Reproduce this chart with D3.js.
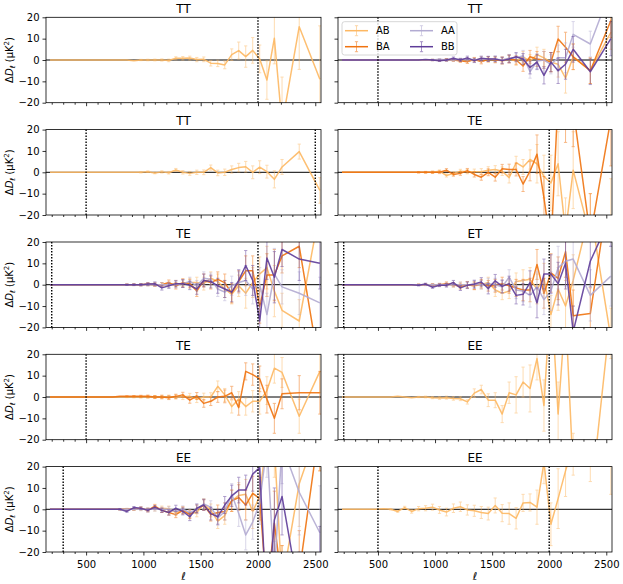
<!DOCTYPE html>
<html><head><meta charset="utf-8">
<script src="https://cdn.jsdelivr.net/npm/d3@7"></script>
<style>body{margin:0;background:#fff}svg{display:block}text{font-family:"DejaVu Sans",sans-serif}</style>
</head><body><svg id="c" width="623" height="584"></svg>
<script>
const ell=[185,246,307,368,429,490,551,612,673,734,795,856,917,978,1039,1100,1161,1222,1283,1344,1405,1466,1527,1588,1649,1710,1771,1832,1893,1954,2015,2078,2143,2210,2360,2540];
const titles=["TT","TT","TT","TE","TE","ET","TE","EE","EE","EE"];
const vlines=[[2000],[500,2500],[500,2500],[2000],[200,2000],[200,2000],[500,2000],[200,2000],[300,2000],[500,2000]];
const seriesNames=["AB","BA","AA","BB"];
const seriesColors=["#fdb863","#f07310","#b2abd2","#5e3c99"];
const xMajorTicks=[500,1000,1500,2000,2500];
const xMinorTicks=[200,300,400,600,700,800,900,1100,1200,1300,1400,1600,1700,1800,1900,2100,2200,2300,2400];
const yTicks=[-20,-10,0,10,20];

// Panel 1 TT (left)
const p1_AB=[0,0,0,0,0,0,0,0,0,0,0,0,-0.3,0,0,0,0,-0.2,0.8,0.8,0.9,0.2,0.3,-1.5,-1.6,-2.3,2.5,4.4,1.6,4.5,0.5,-9.4,10.2,-30,15.6,-9];
const p1_err=[0.02,0.02,0.03,0.03,0.04,0.05,0.06,0.08,0.1,0.12,0.15,0.2,0.25,0.3,0.35,0.4,0.5,0.6,0.7,0.8,0.9,1.0,1.1,1.3,1.5,1.8,2.7,4,5,6,6.5,9,12,22,20,25];
// Panel 2 TT (right)
const p2_AB=[0,0,0,0,0,0,0,0,0,0,0,0,0,0,0,0.2,0,-0.3,0.3,0,0.5,0.3,0.3,-0.5,0.5,-0.5,1.5,-0.5,2.5,1,-1,-2,-8.5,1.5,-5,13];
const p2_BA=[0,0,0,0,0,0,0,0,0,0,0,0,0,0,0,0,0,-0.3,-0.8,0.3,-0.8,0.3,0,0,0.5,0,-2.8,1.5,0.5,0,-1,9.8,6,1.5,-5,18.5];
const p2_AA=[0,0,0,0,0,0,0,0,0,0,0,0,0,0,0.3,0,0,0.2,0.3,0,0.3,0.5,0.5,0,0.8,1,2,-5.5,-0.5,0,-2,1,1,12,7.5,33];
const p2_BB=[0,0,0,0,0,0,0,0,0,0,0,0,0.2,0,-0.3,0,0.8,0,1,-0.3,0.8,0.5,0.5,-0.3,0.5,1.5,0.5,-3.5,-1,-7.2,-1,-5,-2,5,-5.5,10];
const p2_err=[0.02,0.02,0.03,0.03,0.04,0.05,0.06,0.08,0.1,0.12,0.15,0.2,0.25,0.3,0.4,0.5,0.6,0.7,0.8,0.9,1,1.2,1.3,1.5,1.8,2,2.5,3,3.5,4,4.5,6,7,6,6,8];
// Panel 3 TT (left)
const p3_AB=[0,0,0,0,0,0,0,0,0,0,0,0,0,0,0.3,-0.3,0.2,-0.2,1.1,0,-0.5,0,0,2.2,-0.3,0,1.3,2.2,2.6,0,2.4,0.3,-3.3,2.5,9.7,-8.5];
const p3_err=[0.02,0.02,0.03,0.03,0.04,0.05,0.06,0.08,0.1,0.12,0.15,0.2,0.25,0.3,0.35,0.4,0.5,0.6,0.7,0.8,0.9,1,1.1,1.2,1.3,1.5,1.7,2,2.5,3,3,3,4,3.5,3.5,6];
// Panel 4 TE (right)
const p4_AB=[0,0,0,0,0,0,0,0,0,0,0,0,0,0,0.5,-1.5,-0.5,0.5,0.3,0.3,0.3,1,1.3,0.5,-2.5,4.5,2.5,6,4,-2,-5,4,-28,1,-30,-25];
const p4_BA=[0,0,0,0,0,0,0,0,0,0,0,0,0,0,0,1,-1,-0.5,0.8,-1,-2.3,0,-2.3,1.7,1.3,1.3,-5.5,0.5,8.5,-12,-35,35,30,30,-30,25];
const p4_err=[0.02,0.03,0.04,0.05,0.06,0.08,0.1,0.12,0.15,0.2,0.25,0.3,0.4,0.5,0.6,0.7,0.8,0.9,1,1.2,1.4,1.6,1.8,2,2.5,3,3.5,4.5,9,10,13,15,16,18,20,22];
// Panel 5 TE (left)
const p5_AB=[0,0,0,0,0,0,0,0,0,0,0,0,0,0,0,0,0,0,0.5,0.5,1,1,0.5,3,1.5,-2,-4.5,-0.5,-4,1,5,8,-3,-12,-17,35];
const p5_BA=[0,0,0,0,0,0,0,0,0,0,0,0,0,0,0.3,0,0,1,-0.5,1,0.5,-3,2,1,2.5,1,-4,1.5,6.5,6.5,-10,4.5,4.5,13.5,18,-40];
const p5_AA=[0,0,0,0,0,0,0,0,0,0,0,0,0,0,0,0,0,0,0,0.5,1.5,-0.5,3,2.5,-2,-3.5,-0.5,1,2,-2,0,-14,5,-1,-4,-8.5];
const p5_BB=[0,0,0,0,0,0,0,0,0,0,0,0,0,0,0.3,0.5,-1.5,-0.5,0.5,0.5,-0.3,-2,2,1.5,-0.5,-2,-3.5,2,9,2,-17,12.5,3.5,16.5,12,10];
const p5_err=[0.02,0.03,0.04,0.05,0.06,0.08,0.1,0.12,0.15,0.2,0.25,0.3,0.4,0.5,0.6,0.8,1,1.2,1.5,1.8,2,2.5,3,3,3.5,4,4.5,5,7,7,8,10,12,8,10,12];
// Panel 6 ET (right)
const p6_AB=[0,0,0,0,0,0,0,0,0,0,0,0,0,0,0,0,0,0,0,-0.5,0,1,-2.5,-4,-3,1.5,2,2.5,-2,3,-14,-2,-10,2,35,-25];
const p6_BA=[0,0,0,0,0,0,0,0,0,0,0,0,0,0,0,0.5,0,-0.8,0,-0.5,0.5,-0.5,-0.5,0.5,-0.5,-1.5,-2.5,-2.5,9.5,-4,5.5,3,15.5,-14.5,-13.5,50];
const p6_AA=[0,0,0,0,0,0,0,0,0,0,0,0,0,0,0,0,0,0,0,0,0,0.5,0,-1,3.5,-2.5,-3,-5,-1,-7,-3,8,11,12,-5,4];
const p6_BB=[0,0,0,0,0,0,0,0,0,0,0,-0.3,0.3,-1.2,-0.3,-0.3,1,-1.5,-0.3,0.3,1.3,-1.8,1.8,-0.8,0.5,-5,-4.5,1,-8.5,5,5,0.5,10,-22,11,32];
const p6_err=[0.02,0.03,0.04,0.05,0.06,0.08,0.1,0.12,0.15,0.2,0.25,0.3,0.4,0.5,0.6,0.8,1,1.2,1.5,1.8,2,2.5,3,3,3.5,4,5,5.5,7,7,9,10,12,12,12,14];
// Panel 7 TE (left)
const p7_AB=[0,0,0,0,0,0,0,0,0,0,0,0,0,0,0,0,0,0,0,0,0.3,-1,0,0,5,1,-4.5,-1,-4.5,-2,-2,3,13.5,11.5,-9,12];
const p7_BA=[0,0,0,0,0,0,0,0,0,0,0.3,0.3,0.3,0.3,0.3,0,0,-0.3,0.3,1,-1.5,0.5,-3,-2,0,0.3,2,-5,12,10.5,8.5,-1,-10,1.5,2,2];
const p7_err=[0.02,0.03,0.04,0.05,0.06,0.08,0.1,0.12,0.15,0.2,0.25,0.3,0.4,0.5,0.6,0.7,0.8,0.9,1,1.2,1.4,1.6,1.8,2,2.5,3,3,3.5,4,5,6,6.5,7,7,8,10];
// Panel 8 EE (right)
const p8_AB=[0,0,0,0,0,0,0,0,0.3,0,-0.3,0,0,-0.3,-0.5,-0.3,-0.7,-0.8,-2.3,1.8,3.5,-1.5,-1.5,-8,2,1,7,4,18,-4,50,-8,40,-35,-50,40];
const p8_err=[0.02,0.03,0.04,0.05,0.06,0.08,0.1,0.12,0.15,0.2,0.25,0.3,0.4,0.5,0.6,0.7,0.8,0.9,1,2,2,3,3.5,4,5,8.5,7,11,10,12,14,15,16,18,20,22];
// Panel 9 EE (left)
const p9_AB=[0,0,0,0,0,0,0,0,0,0,0,0,0,0,0,0,0.5,0.3,-1.5,-0.5,-2,-1.5,2.5,-0.5,-5.5,-3,4,6.5,7,-1,6,35,30,-35,12,40];
const p9_BA=[0,0,0,0,0,0,0,0,0,0,0,0,0,0.5,-0.5,1.5,-0.5,-1.5,-2.5,-0.5,-2.5,0,2,-2.5,-1.5,-1,4,5.5,2,7.5,5,-40,-6.5,-35,-30,40];
const p9_AA=[0,0,0,0,0,0,0,0,0,0,0,0,0,0,0,0,0,0,-1,0,-1.5,0,2.5,1,-4,-1,7,-2,-12,-6,3,30,-30,30,8,-11];
const p9_BB=[0,0,0,0,0,0,0,0,0,0,0,-1,0.8,0.5,-0.5,1,-0.5,-1.5,0.5,-1,-3.5,0.5,2,-2,-3.5,2,6.3,9,9,16.5,19.5,-50,-5,6,-40,-30];
const p9_err=[0.02,0.03,0.04,0.05,0.06,0.08,0.1,0.15,0.2,0.25,0.3,0.4,0.5,0.6,0.7,0.8,1,1.2,1.4,1.6,1.8,2,2.5,3,3.5,4,5,6,7,8,10,15,15,18,20,22];
// Panel 10 EE (right)
const p10_AB=[0,0,0,0,0,0,0.3,0,-1,0.8,-1,0.3,0.5,1,-0.3,-1.3,0.5,1.2,-0.3,-0.7,-1.5,-2,1.8,-1.8,-2,-4.2,3,3.2,1,22,-7,5,18,30,30,25];
const p10_err=[0.02,0.03,0.04,0.05,0.06,0.1,0.2,0.3,0.4,0.6,0.8,1,1.2,1.4,1.6,1.8,2,2.2,2.4,2.6,2.8,3,3.5,4,5,5,4,4,8,10,10,14,12,14,17,18];

const panels=[
 {series:{AB:p1_AB},err:p1_err},
 {series:{AB:p2_AB,BA:p2_BA,AA:p2_AA,BB:p2_BB},err:p2_err,legend:true},
 {series:{AB:p3_AB},err:p3_err},
 {series:{AB:p4_AB,BA:p4_BA},err:p4_err},
 {series:{AB:p5_AB,BA:p5_BA,AA:p5_AA,BB:p5_BB},err:p5_err},
 {series:{AB:p6_AB,BA:p6_BA,AA:p6_AA,BB:p6_BB},err:p6_err},
 {series:{AB:p7_AB,BA:p7_BA},err:p7_err},
 {series:{AB:p8_AB},err:p8_err},
 {series:{AB:p9_AB,BA:p9_BA,AA:p9_AA,BB:p9_BB},err:p9_err},
 {series:{AB:p10_AB},err:p10_err}
];

const svg=d3.select("#c");
const colX=[[46,321],[338,612]];
const rowTop=[17.3,129.6,242,354.3,466.6];
const ph=85.4;
const fmt=d=>d<0?"\u2212"+Math.abs(d):String(d);

panels.forEach((P,pi)=>{
  const row=Math.floor(pi/2), col=pi%2, top=rowTop[row];
  const x=d3.scaleLinear().domain([150,2550]).range(colX[col]);
  const y=d3.scaleLinear().domain([-20,20]).range([top+ph,top]);
  const g=svg.append("g");
  const cid="clip"+pi;
  g.append("clipPath").attr("id",cid).append("rect")
    .attr("x",colX[col][0]).attr("y",top).attr("width",colX[col][1]-colX[col][0]).attr("height",ph);
  const plot=g.append("g").attr("clip-path",`url(#${cid})`);
  plot.append("line").attr("x1",colX[col][0]).attr("x2",colX[col][1]).attr("y1",y(0)).attr("y2",y(0))
    .attr("stroke","#000").attr("stroke-width",1);
  seriesNames.forEach((nm,si)=>{
    const vals=P.series[nm]; if(!vals) return;
    const c=seriesColors[si];
    const eb=plot.append("g").attr("stroke",c).attr("stroke-width",0.9).attr("opacity",0.55);
    vals.forEach((v,i)=>{
      const e=P.err[i], xx=x(ell[i]);
      if(e*2.13<0.6) return;
      eb.append("line").attr("x1",xx).attr("x2",xx).attr("y1",y(v-e)).attr("y2",y(v+e));
      eb.append("line").attr("x1",xx-1.6).attr("x2",xx+1.6).attr("y1",y(v-e)).attr("y2",y(v-e));
      eb.append("line").attr("x1",xx-1.6).attr("x2",xx+1.6).attr("y1",y(v+e)).attr("y2",y(v+e));
    });
    plot.append("path").datum(vals).attr("fill","none").attr("stroke",c).attr("stroke-width",1.5)
      .attr("stroke-opacity",0.9).attr("stroke-linejoin","round")
      .attr("d",d3.line().x((d,i)=>x(ell[i])).y(d=>y(d)));
  });
  vlines[pi].forEach(v=>{
    plot.append("line").attr("x1",x(v)).attr("x2",x(v)).attr("y1",top).attr("y2",top+ph)
      .attr("stroke","#000").attr("stroke-width",1.4).attr("stroke-dasharray","1.4,1.6");
  });
  const bottom=row===4;
  const xa=g.append("g").attr("transform",`translate(0,${top+ph})`)
    .call(d3.axisBottom(x).tickValues(xMajorTicks).tickSize(3.5).tickSizeOuter(0).tickFormat(bottom?d3.format("d"):""));
  const xm=g.append("g").attr("transform",`translate(0,${top+ph})`)
    .call(d3.axisBottom(x).tickValues(xMinorTicks).tickSize(2).tickSizeOuter(0).tickFormat(""));
  const ya=g.append("g").attr("transform",`translate(${colX[col][0]},0)`)
    .call(d3.axisLeft(y).tickValues(yTicks).tickSize(3.5).tickSizeOuter(0).tickFormat(col===0?fmt:""));
  [xa,xm,ya].forEach(a=>{a.select(".domain").remove();
    a.selectAll("line").attr("stroke","#000").attr("stroke-width",0.8);
    a.selectAll("text").attr("font-family","DejaVu Sans").attr("font-size",10).attr("fill","#000");});
  xa.selectAll("text").attr("dy","0.95em");
  g.append("rect").attr("x",colX[col][0]).attr("y",top).attr("width",colX[col][1]-colX[col][0]).attr("height",ph)
    .attr("fill","none").attr("stroke","#000").attr("stroke-width",0.8);
  g.append("text").attr("x",(colX[col][0]+colX[col][1])/2).attr("y",top-4.5).attr("text-anchor","middle")
    .attr("font-size",12).text(titles[pi]);
  if(col===0){
    const t=g.append("text").attr("transform",`translate(13,${top+ph/2}) rotate(-90)`)
      .attr("text-anchor","middle").attr("font-size",10);
    t.append("tspan").text("\u0394");
    t.append("tspan").attr("font-style","italic").text("D");
    t.append("tspan").attr("font-style","italic").attr("font-size",7).attr("dy",2).text("\u2113");
    t.append("tspan").attr("dy",-2).text(" (\u03bcK");
    t.append("tspan").attr("font-size",7).attr("dy",-4).text("2");
    t.append("tspan").attr("dy",4).text(")");
  }
  if(bottom){
    g.append("text").attr("x",(colX[col][0]+colX[col][1])/2).attr("y",580).attr("text-anchor","middle")
      .attr("font-size",11).attr("font-style","italic").text("\u2113");
  }
  if(P.legend){
    const L=g.append("g");
    L.append("rect").attr("x",342).attr("y",21.7).attr("width",115).attr("height",33.3).attr("rx",2.5)
      .attr("fill","#fff").attr("fill-opacity",0.8).attr("stroke","#ccc").attr("stroke-width",0.8);
    const pos=[[345,30.7],[345,46.7],[410,30.7],[410,46.7]];
    seriesNames.forEach((nm,si)=>{
      const [lx,ly]=pos[si], c=seriesColors[si], mx=lx+11.5;
      L.append("line").attr("x1",lx).attr("x2",lx+23).attr("y1",ly).attr("y2",ly).attr("stroke",c).attr("stroke-width",1.5);
      const eg=L.append("g").attr("stroke",c).attr("stroke-width",0.9).attr("opacity",0.6);
      eg.append("line").attr("x1",mx).attr("x2",mx).attr("y1",ly-5).attr("y2",ly+5);
      eg.append("line").attr("x1",mx-1.6).attr("x2",mx+1.6).attr("y1",ly-5).attr("y2",ly-5);
      eg.append("line").attr("x1",mx-1.6).attr("x2",mx+1.6).attr("y1",ly+5).attr("y2",ly+5);
      L.append("text").attr("x",lx+31).attr("y",ly+3.6).attr("font-size",10).text(nm);
    });
  }
});
</script></body></html>
